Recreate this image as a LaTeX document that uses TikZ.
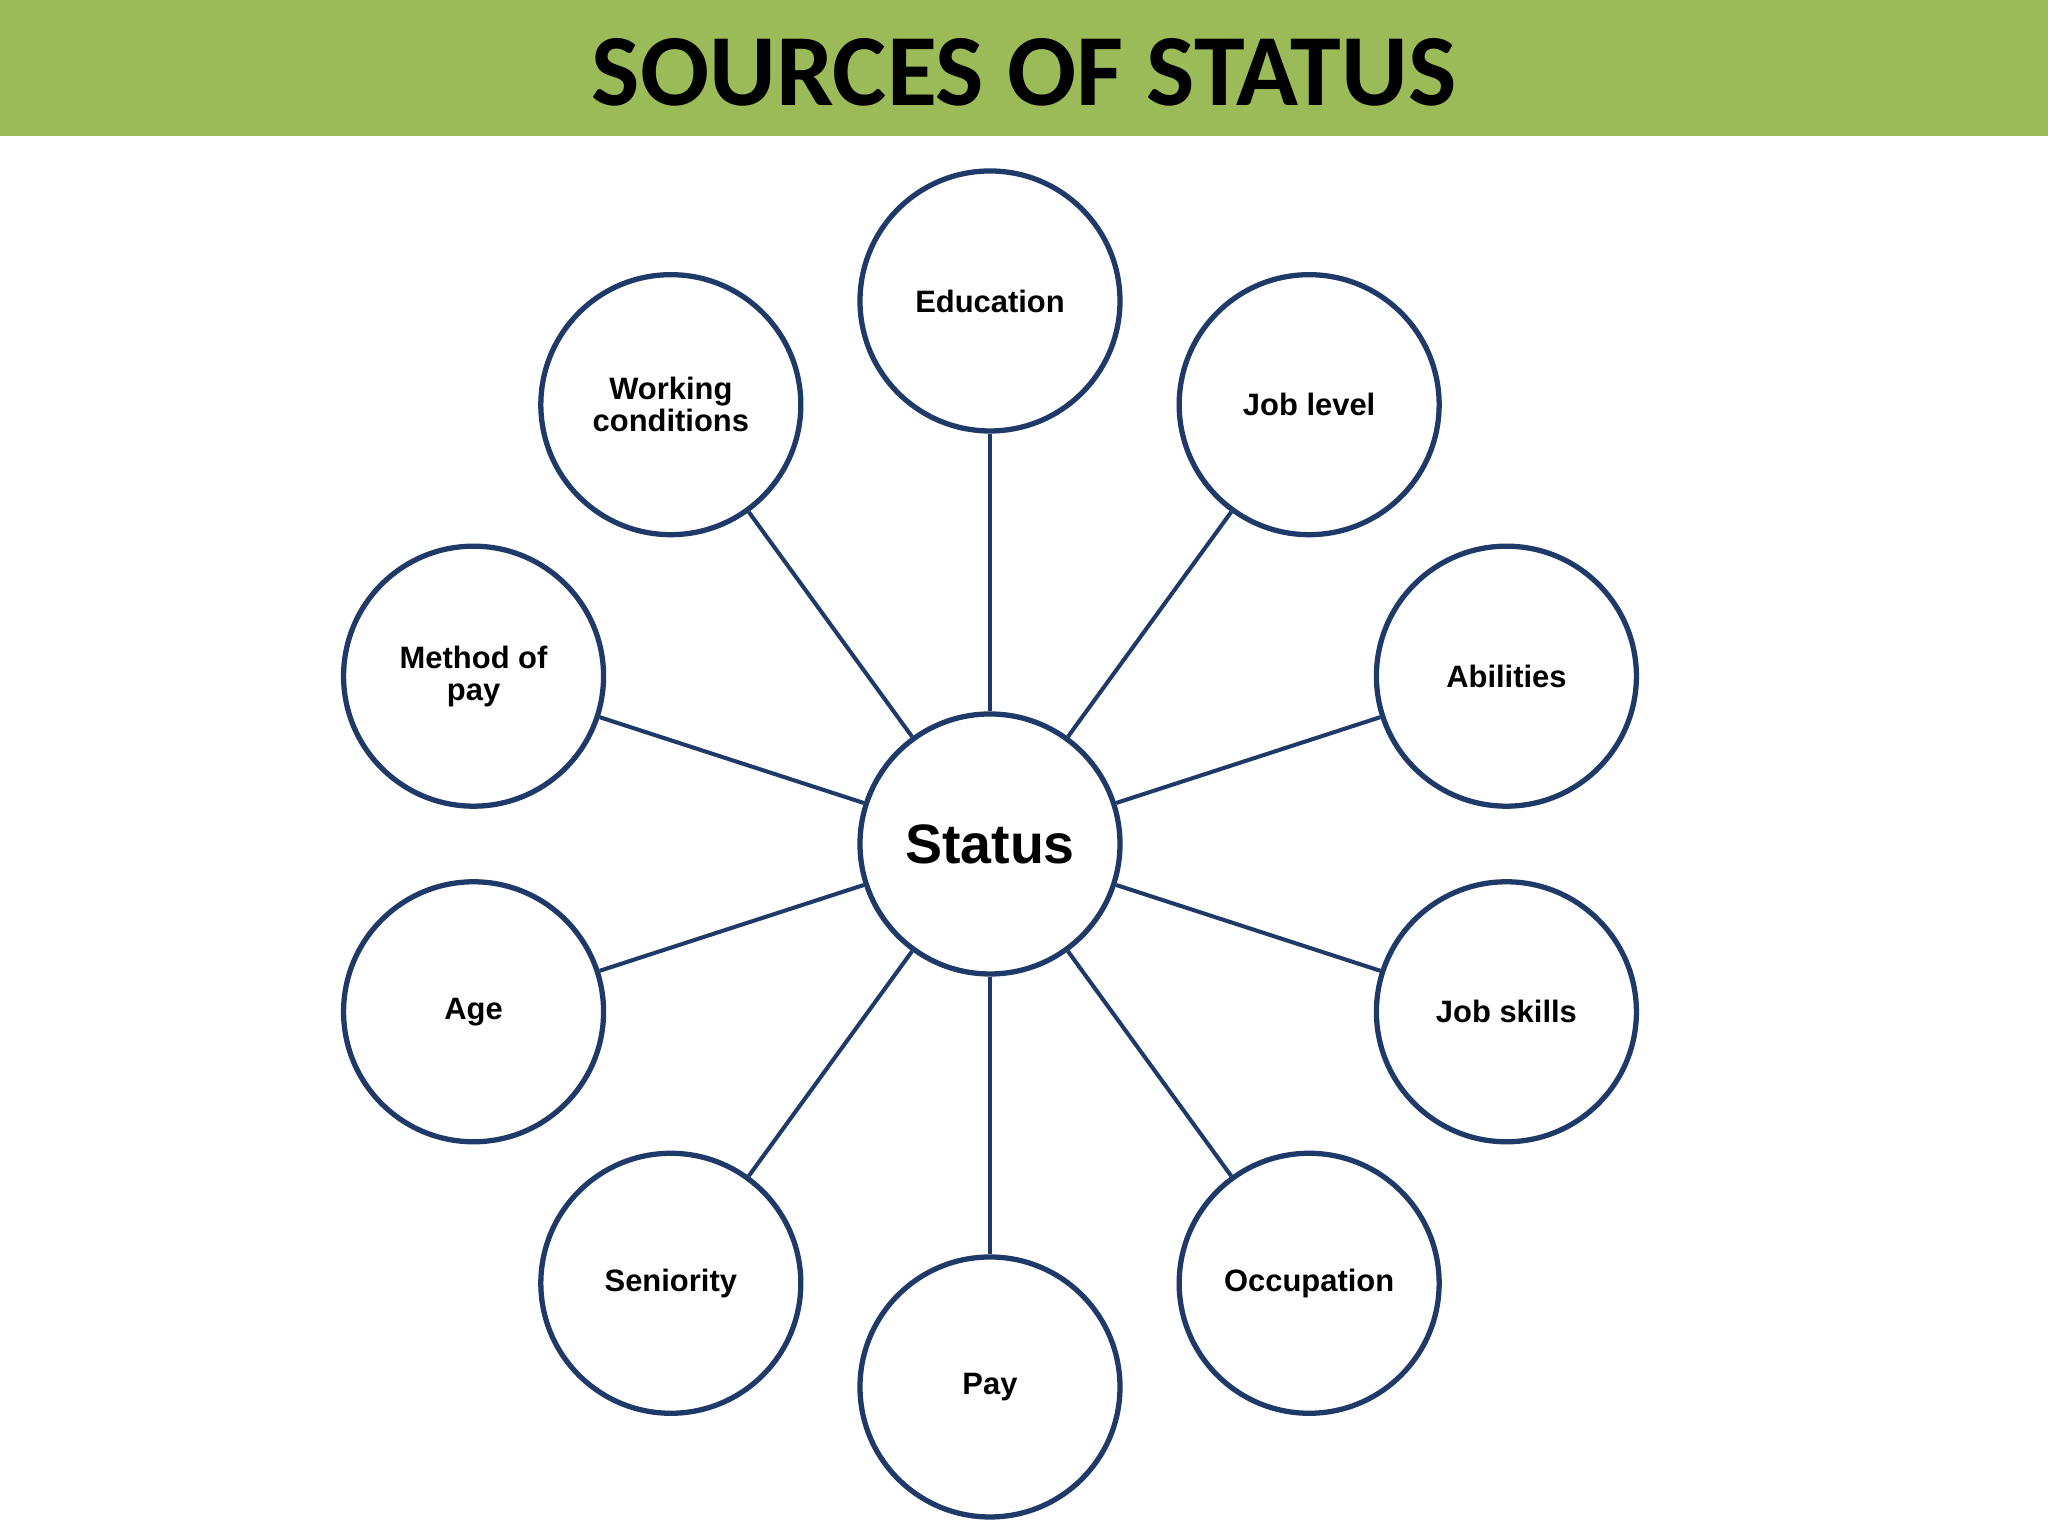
\documentclass[tikz,border=0pt]{standalone}
\usepackage{fontspec}
\setmainfont{Liberation Sans}
\newfontfamily\titlefont{Carlito}
\usepackage{tikz}
\definecolor{bandgreen}{RGB}{155,187,89}
\definecolor{ringblue}{RGB}{31,58,104}
\tikzset{
  source/.style={
    circle,
    draw=ringblue, line width=1.5pt,
    fill=white,
    minimum size=2.6cm,
    align=center,
    font=\fontsize{8.8pt}{9.2pt}\selectfont\bfseries},
  hub/.style={
    source,
    font=\fontsize{15.8pt}{18pt}\selectfont\bfseries},
  spoke/.style={draw=ringblue, line width=1.15pt},
}

\begin{document}
\begin{tikzpicture}
     \useasboundingbox (0,0) rectangle (20.48,15.36);
     % title band
     \fill[bandgreen] (0,14.00) rectangle (20.48,15.36);
     \node (Title) at (10.24,14.64) {\titlefont\fontsize{29.1pt}{30pt}\selectfont\bfseries SOURCES OF STATUS};
     \begin{scope}[shift={(9.90,6.92)}]
     \node[hub] (Status) at (0,0) {Status};
     \node[source] (Education)  at (90:5.43)  {Education};
     \node[source] (JobLevel)   at (54:5.43)  {Job level};
     \node[source] (Abilities)  at (18:5.43)  {Abilities};
     \node[source] (JobSkills)  at (-18:5.43) {Job skills};
     \node[source] (Occupation) at (-54:5.43) {Occupation};
     \node[source] (Pay)        at (-90:5.43) {Pay};
     \node[source] (Seniority)  at (-126:5.43) {Seniority};
     \node[source] (Age)        at (-162:5.43) {Age};
     \node[source] (MethodPay)  at (162:5.43) {Method of\\pay};
     \node[source] (WorkCond)   at (126:5.43) {Working\\conditions};
     \end{scope}
     \draw[spoke] (Status) -- (Education);
     \draw[spoke] (Status) -- (JobLevel);
     \draw[spoke] (Status) -- (Abilities);
     \draw[spoke] (Status) -- (JobSkills);
     \draw[spoke] (Status) -- (Occupation);
     \draw[spoke] (Status) -- (Pay);
     \draw[spoke] (Status) -- (Seniority);
     \draw[spoke] (Status) -- (Age);
     \draw[spoke] (Status) -- (MethodPay);
     \draw[spoke] (Status) -- (WorkCond);
\end{tikzpicture}
\end{document}
